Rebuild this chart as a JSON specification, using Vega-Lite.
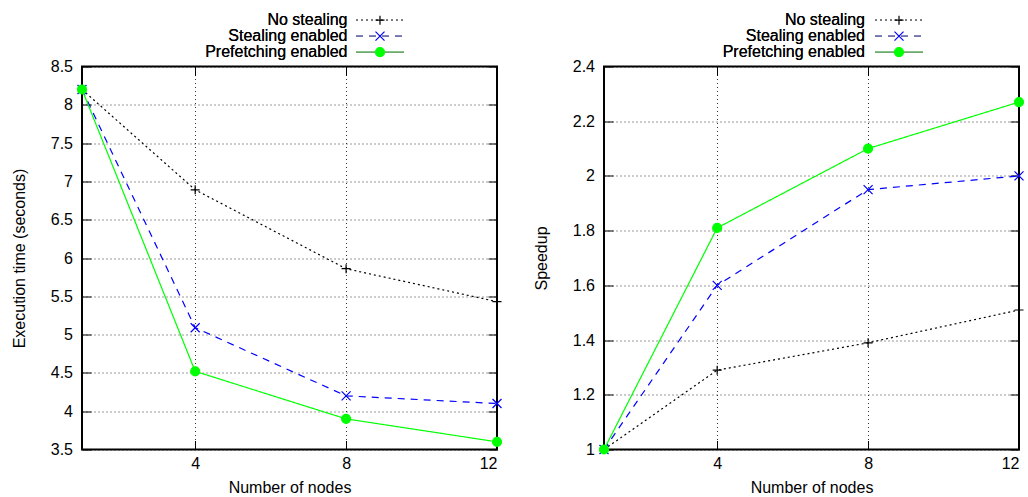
{
  "$schema": "https://vega.github.io/schema/vega-lite/v6.json",
  "padding": {"left": 10, "top": 10.5, "right": 2, "bottom": 2},
  "bounds": "flush",
  "spacing": 107,
  "datasets": {
    "time": [
      {"nodes": 1, "value": 8.2, "series": "No stealing"},
      {"nodes": 4, "value": 6.89, "series": "No stealing"},
      {"nodes": 8, "value": 5.86, "series": "No stealing"},
      {"nodes": 12, "value": 5.43, "series": "No stealing"},
      {"nodes": 1, "value": 8.2, "series": "Stealing enabled"},
      {"nodes": 4, "value": 5.09, "series": "Stealing enabled"},
      {"nodes": 8, "value": 4.2, "series": "Stealing enabled"},
      {"nodes": 12, "value": 4.1, "series": "Stealing enabled"},
      {"nodes": 1, "value": 8.2, "series": "Prefetching enabled"},
      {"nodes": 4, "value": 4.52, "series": "Prefetching enabled"},
      {"nodes": 8, "value": 3.9, "series": "Prefetching enabled"},
      {"nodes": 12, "value": 3.6, "series": "Prefetching enabled"}
    ],
    "speedup": [
      {"nodes": 1, "value": 1.0, "series": "No stealing"},
      {"nodes": 4, "value": 1.29, "series": "No stealing"},
      {"nodes": 8, "value": 1.39, "series": "No stealing"},
      {"nodes": 12, "value": 1.51, "series": "No stealing"},
      {"nodes": 1, "value": 1.0, "series": "Stealing enabled"},
      {"nodes": 4, "value": 1.6, "series": "Stealing enabled"},
      {"nodes": 8, "value": 1.95, "series": "Stealing enabled"},
      {"nodes": 12, "value": 2.0, "series": "Stealing enabled"},
      {"nodes": 1, "value": 1.0, "series": "Prefetching enabled"},
      {"nodes": 4, "value": 1.81, "series": "Prefetching enabled"},
      {"nodes": 8, "value": 2.1, "series": "Prefetching enabled"},
      {"nodes": 12, "value": 2.27, "series": "Prefetching enabled"}
    ]
  },
  "config": {
    "font": "Liberation Sans",
    "view": {"stroke": "#000000", "strokeWidth": 2},
    "axis": {
      "domain": false,
      "grid": true,
      "gridColor": "#000000",
      "gridDash": [1, 3],
      "gridOpacity": 0.8,
      "gridWidth": 1,
      "ticks": true,
      "tickColor": "#000000",
      "tickSize": -9,
      "tickWidth": 1,
      "labelFont": "Liberation Sans",
      "labelFontSize": 16,
      "labelColor": "#000000",
      "titleFont": "Liberation Sans",
      "titleFontSize": 16,
      "titleFontWeight": "normal",
      "titleColor": "#000000",
      "titleAlign": "center",
      "titleBaseline": "middle"
    },
    "axisX": {"labelPadding": 15, "labelBaseline": "top", "format": "d"},
    "axisY": {"labelPadding": 18.5, "format": "~g"},
    "legend": {
      "orient": "none",
      "padding": 0,
      "rowPadding": 0,
      "labelFont": "Liberation Sans",
      "labelFontSize": 16,
      "labelColor": "#000000",
      "labelAlign": "right",
      "labelBaseline": "middle",
      "labelLimit": 400,
      "labelOffset": -40.5,
      "symbolSize": 100,
      "symbolStrokeWidth": 1.2,
      "title": null
    }
  },
  "resolve": {
    "scale": {"color": "independent", "strokeDash": "independent", "shape": "independent", "fill": "independent", "stroke": "independent"},
    "legend": {"color": "independent", "strokeDash": "independent", "shape": "independent", "fill": "independent", "stroke": "independent"}
  },
  "hconcat": [
    {
      "width": 415,
      "height": 383,
      "data": {"name": "time"},
      "layer": [
        {
          "mark": {"type": "line", "strokeWidth": 1.2},
          "encoding": {
            "x": {"field": "nodes", "type": "quantitative", "scale": {"domain": [1, 12], "nice": false, "zero": false},
                  "axis": {"values": [4, 8, 12], "title": "Number of nodes", "titleX": 207.5, "titleY": 38}},
            "y": {"field": "value", "type": "quantitative", "scale": {"domain": [3.5, 8.5], "nice": false, "zero": false},
                  "axis": {"values": [3.5, 4, 4.5, 5, 5.5, 6, 6.5, 7, 7.5, 8, 8.5], "title": "Execution time (seconds)", "titleX": -62.5, "titleY": 191.5}},
            "color": {"field": "series", "type": "nominal", "sort": ["No stealing", "Stealing enabled", "Prefetching enabled"],
                      "scale": {"range": ["#000000", "#0000ff", "#00ff00"]},
                      "legend": {"legendX": 290, "legendY": -54.3, "symbolType": "M-4.8,0H4.8",
                                 "encode": {"symbols": {"update": {"strokeDash": {"signal": "datum.value === 'No stealing' ? [2, 3] : datum.value === 'Stealing enabled' ? [7, 6] : [1, 0]"}}}}}},
            "strokeDash": {"field": "series", "type": "nominal", "sort": ["No stealing", "Stealing enabled", "Prefetching enabled"],
                           "scale": {"range": [[2, 3], [7, 6], [1, 0]]},
                           "legend": {"legendX": 290, "legendY": -54.3, "symbolType": "M-4.8,0H4.8",
                                      "encode": {"symbols": {"update": {"strokeDash": {"signal": "datum.value === 'No stealing' ? [2, 3] : datum.value === 'Stealing enabled' ? [7, 6] : [1, 0]"}}}}}}
          }
        },
        {
          "mark": {"type": "point", "filled": true, "size": 81, "strokeWidth": 1.2, "opacity": 1},
          "encoding": {
            "x": {"field": "nodes", "type": "quantitative", "axis": {"orient": "top", "values": [4, 8, 12], "labels": false, "title": null, "grid": false}},
            "y": {"field": "value", "type": "quantitative", "axis": {"orient": "right", "values": [3.5, 4, 4.5, 5, 5.5, 6, 6.5, 7, 7.5, 8, 8.5], "labels": false, "title": null, "grid": false}},
            "shape": {"field": "series", "type": "nominal",
                      "scale": {"domain": ["No stealing", "Stealing enabled", "Prefetching enabled"], "range": ["M-1,0H1M0,-1V1", "M-1,-1L1,1M-1,1L1,-1", "circle"]},
                      "legend": {"legendX": 290, "legendY": -54.3, "symbolSize": 81, "labelExpr": "''"}},
            "fill": {"field": "series", "type": "nominal",
                     "scale": {"domain": ["No stealing", "Stealing enabled", "Prefetching enabled"], "range": ["#000000", "#0000ff", "#00ff00"]},
                     "legend": {"legendX": 290, "legendY": -54.3, "symbolSize": 81, "labelExpr": "''"}},
            "stroke": {"field": "series", "type": "nominal",
                       "scale": {"domain": ["No stealing", "Stealing enabled", "Prefetching enabled"], "range": ["#000000", "#0000ff", "#00ff00"]},
                       "legend": {"legendX": 290, "legendY": -54.3, "symbolSize": 81, "labelExpr": "''"}}
          }
        }
      ],
      "resolve": {"axis": {"x": "independent", "y": "independent"}}
    },
    {
      "width": 415,
      "height": 383,
      "data": {"name": "speedup"},
      "layer": [
        {
          "mark": {"type": "line", "strokeWidth": 1.2},
          "encoding": {
            "x": {"field": "nodes", "type": "quantitative", "scale": {"domain": [1, 12], "nice": false, "zero": false},
                  "axis": {"values": [4, 8, 12], "title": "Number of nodes", "titleX": 207.5, "titleY": 38}},
            "y": {"field": "value", "type": "quantitative", "scale": {"domain": [1, 2.4], "nice": false, "zero": false},
                  "axis": {"values": [1, 1.2, 1.4, 1.6, 1.8, 2, 2.2, 2.4], "title": "Speedup", "titleX": -62.5, "titleY": 191.5}},
            "color": {"field": "series", "type": "nominal", "sort": ["No stealing", "Stealing enabled", "Prefetching enabled"],
                      "scale": {"range": ["#000000", "#0000ff", "#00ff00"]},
                      "legend": {"legendX": 287, "legendY": -54.3, "symbolType": "M-4.8,0H4.8", "labelOffset": -42,
                                 "encode": {"symbols": {"update": {"strokeDash": {"signal": "datum.value === 'No stealing' ? [2, 3] : datum.value === 'Stealing enabled' ? [7, 6] : [1, 0]"}}}}}},
            "strokeDash": {"field": "series", "type": "nominal", "sort": ["No stealing", "Stealing enabled", "Prefetching enabled"],
                           "scale": {"range": [[2, 3], [7, 6], [1, 0]]},
                           "legend": {"legendX": 287, "legendY": -54.3, "symbolType": "M-4.8,0H4.8", "labelOffset": -42,
                                      "encode": {"symbols": {"update": {"strokeDash": {"signal": "datum.value === 'No stealing' ? [2, 3] : datum.value === 'Stealing enabled' ? [7, 6] : [1, 0]"}}}}}}
          }
        },
        {
          "mark": {"type": "point", "filled": true, "size": 81, "strokeWidth": 1.2, "opacity": 1},
          "encoding": {
            "x": {"field": "nodes", "type": "quantitative", "axis": {"orient": "top", "values": [4, 8, 12], "labels": false, "title": null, "grid": false}},
            "y": {"field": "value", "type": "quantitative", "axis": {"orient": "right", "values": [1, 1.2, 1.4, 1.6, 1.8, 2, 2.2, 2.4], "labels": false, "title": null, "grid": false}},
            "shape": {"field": "series", "type": "nominal",
                      "scale": {"domain": ["No stealing", "Stealing enabled", "Prefetching enabled"], "range": ["M-1,0H1M0,-1V1", "M-1,-1L1,1M-1,1L1,-1", "circle"]},
                      "legend": {"legendX": 287, "legendY": -54.3, "symbolSize": 81, "labelExpr": "''"}},
            "fill": {"field": "series", "type": "nominal",
                     "scale": {"domain": ["No stealing", "Stealing enabled", "Prefetching enabled"], "range": ["#000000", "#0000ff", "#00ff00"]},
                     "legend": {"legendX": 287, "legendY": -54.3, "symbolSize": 81, "labelExpr": "''"}},
            "stroke": {"field": "series", "type": "nominal",
                       "scale": {"domain": ["No stealing", "Stealing enabled", "Prefetching enabled"], "range": ["#000000", "#0000ff", "#00ff00"]},
                       "legend": {"legendX": 287, "legendY": -54.3, "symbolSize": 81, "labelExpr": "''"}}
          }
        }
      ],
      "resolve": {"axis": {"x": "independent", "y": "independent"}}
    }
  ]
}
